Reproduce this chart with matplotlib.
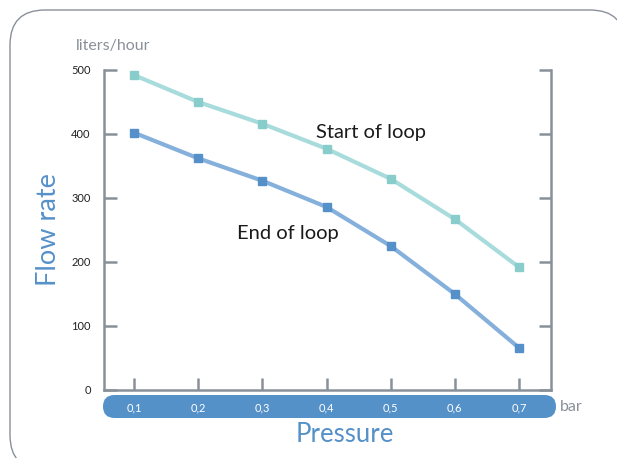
import matplotlib.pyplot as plt
from matplotlib.patches import FancyBboxPatch

plt.rcParams['font.family'] = ['Lato', 'DejaVu Sans']

# data
pressure = [0.1, 0.2, 0.3, 0.4, 0.5, 0.6, 0.7]
pressure_labels = ['0,1', '0,2', '0,3', '0,4', '0,5', '0,6', '0,7']
start_loop = [492, 450, 416, 377, 330, 267, 192]
end_loop = [402, 362, 327, 286, 225, 150, 66]
y_ticks = [0, 100, 200, 300, 400, 500]

gray = '#8a9099'
blue = '#5591c9'

fig = plt.figure(figsize=(6.17, 4.58), dpi=100)

# background layer in pixel units (border + pill)
bg = fig.add_axes([0, 0, 1, 1])
bg.set_xlim(0, 617)
bg.set_ylim(458, 0)
bg.axis('off')
bg.add_patch(FancyBboxPatch((45, 45), 545, 390,
                            boxstyle='round,pad=35', fc='white', ec=gray,
                            lw=1.0, clip_on=False))
bg.add_patch(FancyBboxPatch((114.5, 406.5), 556 - 114.5 - 11.5, 0,
                            boxstyle='round,pad=11.5', fc=blue, ec='none',
                            clip_on=False))

ax = fig.add_axes([104 / 617, 1 - 390 / 458, 447 / 617, 320 / 458])
ax.patch.set_alpha(0)

ax.plot(pressure, start_loop, color='#a8dcdc', lw=3, marker='s', ms=6,
        mfc='#88cccc', mec='#88cccc', zorder=3)
ax.plot(pressure, end_loop, color='#85b0dc', lw=3, marker='s', ms=6,
        mfc='#5590c8', mec='#5590c8', zorder=3)

ax.set_xlim(0.0531, 0.75)
ax.set_ylim(0, 500)

ax.spines['top'].set_visible(False)
for s in ['left', 'right', 'bottom']:
    ax.spines[s].set_color(gray)
    ax.spines[s].set_linewidth(1.8)

ax.set_yticks(y_ticks)
ax.set_xticks(pressure)
ax.set_xticklabels(pressure_labels)
ax.tick_params(axis='y', direction='in', length=9, width=1.8, color=gray,
               right=True, labelsize=8, pad=9.5, labelcolor='#222222')
ax.tick_params(axis='x', direction='in', length=9, width=1.8, color=gray,
               labelsize=8, pad=9, labelcolor='white')

ax.text(0.474, 0.806, 'Start of loop', transform=ax.transAxes,
        fontsize=14.5, color='#1a1a1a', va='center')
ax.text(0.2975, 0.4875, 'End of loop', transform=ax.transAxes,
        fontsize=14.5, color='#1a1a1a', va='center')

fig.text(113 / 617, 1 - 46 / 458, 'liters/hour', fontsize=11.5, color=gray,
         ha='center', va='center')
fig.text(48 / 617, 1 - 230 / 458, 'Flow rate', fontsize=19.5, color=blue,
         ha='center', va='center', rotation=90)
fig.text(345 / 617, 1 - 435 / 458, 'Pressure', fontsize=18.5, color=blue,
         ha='center', va='center')
fig.text(560 / 617, 1 - 407 / 458, 'bar', fontsize=11.5, color=gray,
         ha='left', va='center')

plt.savefig('out.png', dpi=100)
